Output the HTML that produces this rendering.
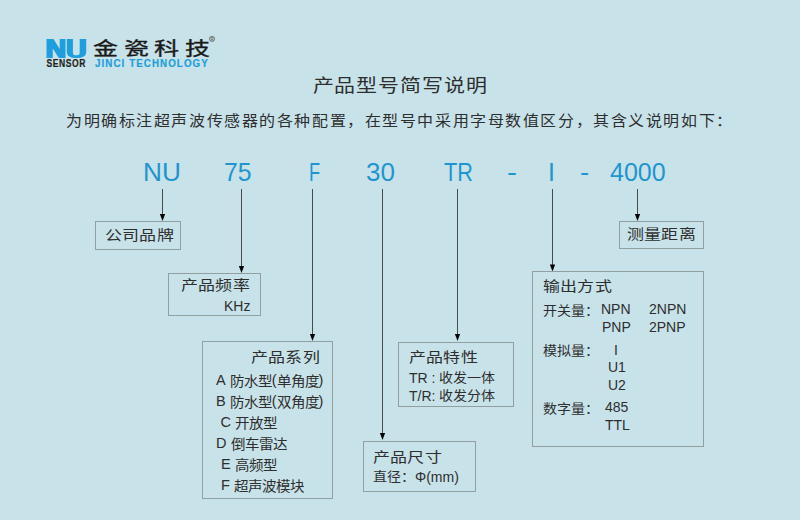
<!DOCTYPE html>
<html lang="zh-CN">
<head>
<meta charset="utf-8">
<style>
html,body{margin:0;padding:0;}
body{width:800px;height:520px;background:#c8e2e9;position:relative;overflow:hidden;font-family:"Liberation Sans",sans-serif;color:#2e2e2e;}
.t{position:absolute;white-space:nowrap;line-height:1;}
.t span{display:inline-block;transform-origin:0 0;}
.code{position:absolute;white-space:nowrap;line-height:1;color:#1f95d0;font-size:25px;transform-origin:0 0;}
.box{position:absolute;border:1px solid #939ea1;box-sizing:border-box;}
</style>
</head>
<body>
<svg style="position:absolute;left:0;top:0" width="800" height="80">
  <path fill="#1e9edc" d="M46.5,39 H53.5 L59.7,49 V39 H65.5 V58 H58.8 L52.8,48.5 V58 H46.5 Z M66.8,39 H72.9 V53 Q72.9,55.3 76.3,55.3 Q79.7,55.3 79.7,53 V39 H86.2 V52 Q86.2,58 76.5,58 Q66.8,58 66.8,52 Z"/>
  <text x="0" y="0" transform="translate(46.5,66.7) scale(0.84,1)" font-family="Liberation Sans" font-weight="bold" font-size="10.2" fill="#231f20" stroke="#231f20" stroke-width="0.2" textLength="46.3" lengthAdjust="spacing">SENSOR</text>
  <text x="0" y="0" transform="translate(95,66.6) scale(0.96,1)" font-family="Liberation Sans" font-weight="bold" font-size="10.2" fill="#1e9edc" stroke="#1e9edc" stroke-width="0.2" textLength="117.5" lengthAdjust="spacing">JINCI TECHNOLOGY</text>
  <text x="0" y="0" transform="translate(93,54.8) scale(1,0.72)" font-family="'Liberation Serif', serif" font-weight="normal" font-size="25" fill="#1a1a1a" stroke="#1a1a1a" stroke-width="0.45" letter-spacing="5.5">金瓷科技</text>
  <circle cx="212" cy="38.9" r="2.6" fill="none" stroke="#666" stroke-width="0.8"/>
  <text x="210.6" y="40.6" font-family="Liberation Sans" font-size="4.5" font-weight="bold" fill="#666">R</text>
</svg>
<div class="t" style="left:312.5px;top:77.2px;font-size:21px;letter-spacing:0.92px;"><span style="transform:translateY(0.0px) scaleY(0.86)">产品型号简写说明</span></div>
<div class="t" style="left:66px;top:113.7px;font-size:16px;letter-spacing:1.57px;"><span style="transform:translateY(0.0px) scaleY(0.95)">为明确标注超声波传感器的各种配置，在型号中采用字母数值区分，其含义说明如下：</span></div>
<div class="code" style="left:143px;top:159.6px;transform:scaleX(1.05);">NU</div>
<div class="code" style="left:223.75px;top:159.6px;transform:scaleX(0.99);">75</div>
<div class="code" style="left:309px;top:159.6px;transform:scaleX(0.73);">F</div>
<div class="code" style="left:366px;top:159.6px;transform:scaleX(1.04);">30</div>
<div class="code" style="left:444px;top:159.6px;transform:scaleX(0.867);">TR</div>
<div class="code" style="left:506.5px;top:159.6px;transform:scaleX(1.2);">-</div>
<div class="code" style="left:547.9px;top:159.6px;transform:scaleX(1.0);">I</div>
<div class="code" style="left:580px;top:159.6px;transform:scaleX(1.1);">-</div>
<div class="code" style="left:610px;top:159.6px;transform:scaleX(1.0);">4000</div>
<svg style="position:absolute;left:0;top:0" width="800" height="520">
<g stroke="#4a4a4a" stroke-width="1">
<line x1="162.5" y1="189" x2="162.5" y2="216"/>
<line x1="241.5" y1="189" x2="241.5" y2="268"/>
<line x1="312.5" y1="189" x2="312.5" y2="336"/>
<line x1="382.5" y1="189" x2="382.5" y2="435"/>
<line x1="457.5" y1="189" x2="457.5" y2="336"/>
<line x1="552.5" y1="189" x2="552.5" y2="266.5"/>
<line x1="637.5" y1="189" x2="637.5" y2="216"/>
</g>
<g fill="#000">
<polygon points="159.9,214 165.1,214 162.5,221"/>
<polygon points="238.9,266 244.1,266 241.5,273"/>
<polygon points="309.9,334 315.1,334 312.5,341"/>
<polygon points="379.9,433 385.1,433 382.5,440"/>
<polygon points="454.9,334 460.1,334 457.5,341"/>
<polygon points="549.9,264.5 555.1,264.5 552.5,271.5"/>
<polygon points="634.9,214 640.1,214 637.5,221"/>
</g>
</svg>
<div class="box" style="left:95px;top:221px;width:86px;height:29px;"></div>
<div class="t" style="left:105px;top:228.5px;font-size:17px;letter-spacing:0.2px;"><span style="transform:translateY(-0.6px) scaleY(0.82)">公司品牌</span></div>
<div class="box" style="left:619px;top:221px;width:85px;height:28px;"></div>
<div class="t" style="left:627px;top:227.5px;font-size:17px;letter-spacing:0.2px;"><span style="transform:translateY(-0.6px) scaleY(0.82)">测量距离</span></div>
<div class="box" style="left:168px;top:273px;width:93px;height:43px;"></div>
<div class="t" style="left:181px;top:279px;font-size:17px;letter-spacing:0.2px;"><span style="transform:translateY(-0.6px) scaleY(0.82)">产品频率</span></div>
<div class="t" style="left:224px;top:299px;font-size:14px;">KHz</div>
<div class="box" style="left:202px;top:341px;width:131px;height:158px;"></div>
<div class="t" style="left:251px;top:350.5px;font-size:17px;letter-spacing:0.2px;"><span style="transform:translateY(-0.6px) scaleY(0.82)">产品系列</span></div>
<div class="t" style="left:216px;top:372.5px;font-size:14.5px;">A&nbsp;<span style="transform:translateY(1.4px) scaleY(0.93)">防水型</span>(<span style="transform:translateY(1.4px) scaleY(0.93)">单角度</span>)</div>
<div class="t" style="left:216px;top:393.5px;font-size:14.5px;">B&nbsp;<span style="transform:translateY(1.4px) scaleY(0.93)">防水型</span>(<span style="transform:translateY(1.4px) scaleY(0.93)">双角度</span>)</div>
<div class="t" style="left:220.5px;top:414.5px;font-size:14.5px;">C&nbsp;<span style="transform:translateY(1.4px) scaleY(0.93)">开放型</span></div>
<div class="t" style="left:216px;top:435.5px;font-size:14.5px;">D&nbsp;<span style="transform:translateY(1.4px) scaleY(0.93)">倒车雷达</span></div>
<div class="t" style="left:221px;top:456.5px;font-size:14.5px;">E&nbsp;<span style="transform:translateY(1.4px) scaleY(0.93)">高频型</span></div>
<div class="t" style="left:221px;top:477.5px;font-size:14.5px;">F&nbsp;<span style="transform:translateY(1.4px) scaleY(0.93)">超声波模块</span></div>
<div class="box" style="left:398px;top:342px;width:116px;height:65px;"></div>
<div class="t" style="left:409px;top:350.5px;font-size:17px;letter-spacing:0.2px;"><span style="transform:translateY(-0.6px) scaleY(0.82)">产品特性</span></div>
<div class="t" style="left:409px;top:370.5px;font-size:14px;">TR&nbsp;:&nbsp;<span style="transform:translateY(0.0px) scaleY(0.92)">收发一体</span></div>
<div class="t" style="left:409px;top:388.5px;font-size:14px;">T/R:&nbsp;<span style="transform:translateY(0.0px) scaleY(0.92)">收发分体</span></div>
<div class="box" style="left:363px;top:441px;width:113px;height:51px;"></div>
<div class="t" style="left:373px;top:450.5px;font-size:17px;letter-spacing:0.2px;"><span style="transform:translateY(-0.6px) scaleY(0.82)">产品尺寸</span></div>
<div class="t" style="left:373px;top:470px;font-size:14px;"><span style="transform:translateY(0.0px) scaleY(0.92)">直径：</span>Φ(mm)</div>
<div class="box" style="left:532px;top:271px;width:172px;height:176px;"></div>
<div class="t" style="left:543px;top:279.5px;font-size:17px;letter-spacing:0.2px;"><span style="transform:translateY(-0.6px) scaleY(0.82)">输出方式</span></div>
<div class="t" style="left:543px;top:303.5px;font-size:14px;"><span style="transform:translateY(0.0px) scaleY(0.92)">开关量：</span></div>
<div class="t" style="left:601px;top:302px;font-size:14px;">NPN</div>
<div class="t" style="left:649px;top:302px;font-size:14px;">2NPN</div>
<div class="t" style="left:602px;top:320px;font-size:14px;">PNP</div>
<div class="t" style="left:649px;top:320px;font-size:14px;">2PNP</div>
<div class="t" style="left:543px;top:343.5px;font-size:14px;"><span style="transform:translateY(0.0px) scaleY(0.92)">模拟量：</span></div>
<div class="t" style="left:614px;top:343px;font-size:14px;">I</div>
<div class="t" style="left:608px;top:360px;font-size:14px;">U1</div>
<div class="t" style="left:608px;top:378px;font-size:14px;">U2</div>
<div class="t" style="left:543px;top:401.5px;font-size:14px;"><span style="transform:translateY(0.0px) scaleY(0.92)">数字量：</span></div>
<div class="t" style="left:605px;top:400px;font-size:14px;">485</div>
<div class="t" style="left:605px;top:418px;font-size:14px;">TTL</div>
</body>
</html>
